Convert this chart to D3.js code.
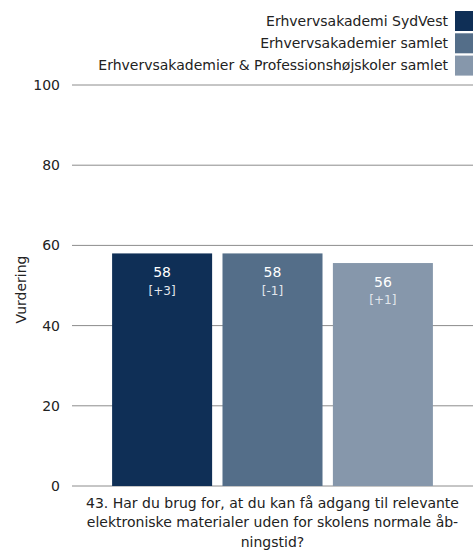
<!DOCTYPE html>
<html>
<head>
<meta charset="utf-8">
<script src="https://cdn.jsdelivr.net/npm/d3@7"></script>
<style>
  html, body { margin: 0; padding: 0; background: #fff; }
  svg { display: block; }
  text { font-family: "DejaVu Sans", sans-serif; }
</style>
</head>
<body>
<svg id="chart" width="473" height="550"></svg>
<script>
// Series shown in the legend and as bars
const seriesNames = [
  "Erhvervsakademi SydVest",
  "Erhvervsakademier samlet",
  "Erhvervsakademier & Professionshøjskoler samlet"
];
const seriesValues = [58, 58, 55.6];
const seriesChanges = ["[+3]", "[-1]", "[+1]"];
const seriesColors = ["#0f2f56", "#546e89", "#8697ab"];

// Single question category, already broken into lines
const categoryLines = [
  "43. Har du brug for, at du kan få adgang til relevante",
  "elektroniske materialer uden for skolens normale åb-",
  "ningstid?"
];
const yTicks = [0, 20, 40, 60, 80, 100];
const yTitle = "Vurdering";

const svg = d3.select("#chart");
const plot = { left: 72, right: 473, top: 85, bottom: 486 };

const y = d3.scaleLinear().domain([0, 100]).range([plot.bottom, plot.top]);
const xOuter = d3.scaleBand().domain(["q"]).range([plot.left, plot.right])
  .paddingInner(0).paddingOuter(0.125);
const x = d3.scaleBand().domain(d3.range(seriesNames.length))
  .range([xOuter("q"), xOuter("q") + xOuter.bandwidth()])
  .paddingInner(0.094).paddingOuter(0);

// Gridlines and tick labels
const grid = svg.append("g");
grid.selectAll("line").data(yTicks).join("line")
  .attr("x1", plot.left).attr("x2", plot.right)
  .attr("y1", d => y(d)).attr("y2", d => y(d))
  .attr("stroke", "#8c8c8c").attr("stroke-width", 1);
grid.selectAll("text").data(yTicks).join("text")
  .attr("x", 60).attr("y", d => y(d)).attr("dy", "0.35em")
  .attr("text-anchor", "end").attr("font-size", 14).attr("fill", "#222")
  .text(d => d);

// Axis title
svg.append("text")
  .attr("transform", `translate(21,${(plot.top + plot.bottom) / 2 + 4}) rotate(-90)`)
  .attr("text-anchor", "middle").attr("dy", "0.35em")
  .attr("font-size", 14).attr("fill", "#222")
  .text(yTitle);

// Bars
const bars = svg.append("g").selectAll("g").data(seriesValues).join("g");
bars.append("rect")
  .attr("x", (d, i) => x(i)).attr("width", x.bandwidth())
  .attr("y", d => y(d)).attr("height", d => y(0) - y(d))
  .attr("fill", (d, i) => seriesColors[i]);
bars.append("text")
  .attr("x", (d, i) => x(i) + x.bandwidth() / 2)
  .attr("y", d => y(d) + 19).attr("dy", "0.35em")
  .attr("text-anchor", "middle").attr("font-size", 14).attr("fill", "#fff")
  .text(d => Math.round(d));
bars.append("text")
  .attr("x", (d, i) => x(i) + x.bandwidth() / 2)
  .attr("y", d => y(d) + 37).attr("dy", "0.35em")
  .attr("text-anchor", "middle").attr("font-size", 12).attr("fill", "#e2e6ec")
  .text((d, i) => seriesChanges[i]);

// Category label under the bars
svg.append("g").selectAll("text").data(categoryLines).join("text")
  .attr("x", (plot.left + plot.right) / 2)
  .attr("y", (d, i) => 503 + i * 19.5).attr("dy", "0.35em")
  .attr("text-anchor", "middle").attr("font-size", 14).attr("fill", "#222")
  .text(d => d);

// Legend, right aligned
const legend = svg.append("g").selectAll("g").data(seriesNames).join("g")
  .attr("transform", (d, i) => `translate(0,${11 + i * 22.3})`);
legend.append("rect")
  .attr("x", 455).attr("y", 0).attr("width", 18).attr("height", 20)
  .attr("fill", (d, i) => seriesColors[i]);
legend.append("text")
  .attr("x", 448).attr("y", 10).attr("dy", "0.35em")
  .attr("text-anchor", "end").attr("font-size", 14).attr("fill", "#222")
  .text(d => d);
</script>
</body>
</html>
